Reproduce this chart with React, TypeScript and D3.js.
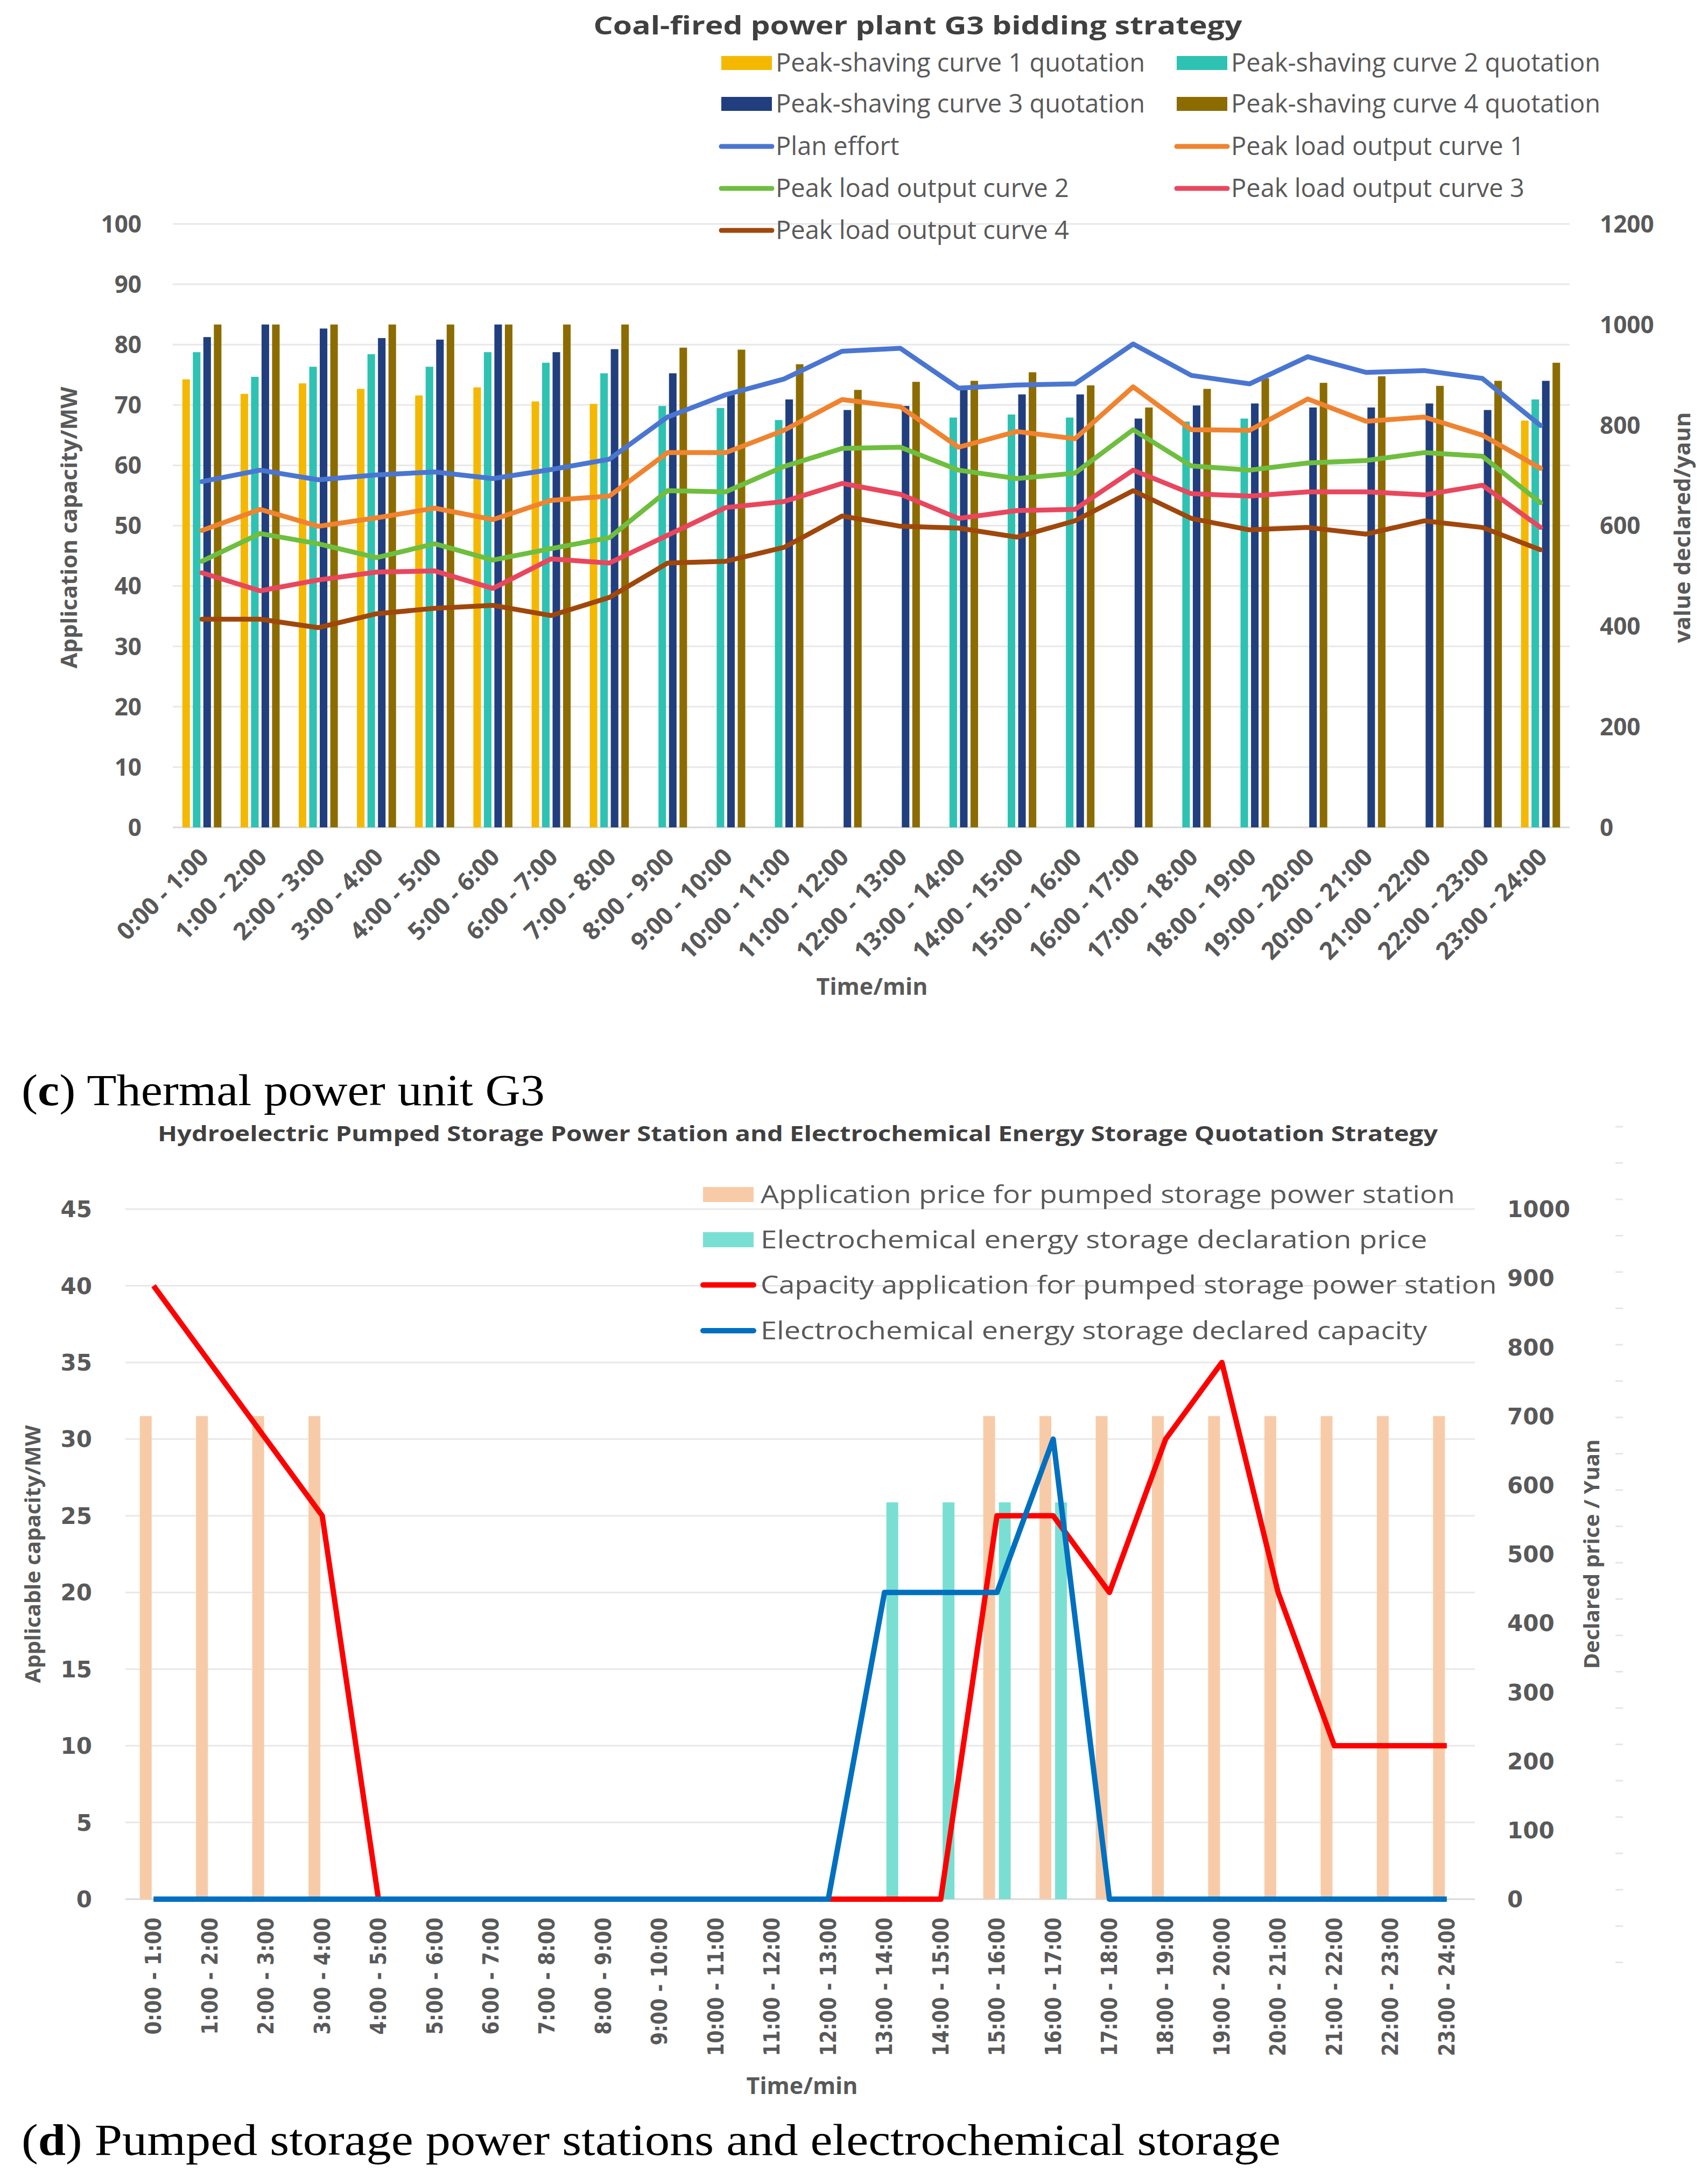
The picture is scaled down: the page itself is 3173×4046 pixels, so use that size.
import React from "react";
import * as d3 from "d3";

// time slots shared by both charts
const slots = [
  "0:00 - 1:00", "1:00 - 2:00", "2:00 - 3:00", "3:00 - 4:00", "4:00 - 5:00", "5:00 - 6:00",
  "6:00 - 7:00", "7:00 - 8:00", "8:00 - 9:00", "9:00 - 10:00", "10:00 - 11:00", "11:00 - 12:00",
  "12:00 - 13:00", "13:00 - 14:00", "14:00 - 15:00", "15:00 - 16:00", "16:00 - 17:00", "17:00 - 18:00",
  "18:00 - 19:00", "19:00 - 20:00", "20:00 - 21:00", "21:00 - 22:00", "22:00 - 23:00", "23:00 - 24:00",
];

// chart (c): quotations in yuan (right axis)
const quote1 = [891, 862, 883, 872, 859, 875, 847, 842, null, null, null, null, null, null, null, null, null, null, null, null, null, null, null, 809];
const quote2 = [945, 896, 916, 941, 916, 945, 924, 903, 838, 834, 810, null, null, 815, 821, 815, null, 807, 813, null, null, null, null, 851];
const quote3 = [975, 1000, 992, 973, 970, 1000, 945, 951, 903, 860, 851, 830, 838, 870, 861, 861, 813, 839, 843, 835, 835, 843, 830, 888];
const quote4 = [1000, 1000, 1000, 1000, 1000, 1000, 1000, 1000, 954, 950, 921, 870, 886, 888, 905, 879, 835, 872, 893, 884, 897, 878, 888, 924];

// chart (c): outputs in MW (left axis)
const planEffort = [57.3, 59.2, 57.6, 58.4, 58.9, 57.8, 59.3, 61.0, 68.0, 71.7, 74.3, 78.9, 79.4, 72.8, 73.3, 73.5, 80.1, 74.9, 73.5, 78.0, 75.4, 75.7, 74.4, 66.6];
const peak1 = [49.2, 52.7, 49.9, 51.3, 52.9, 51.0, 54.2, 54.9, 62.1, 62.1, 65.8, 70.9, 69.7, 63.0, 65.6, 64.4, 73.0, 65.9, 65.8, 71.0, 67.3, 68.0, 65.0, 59.5];
const peak2 = [44.1, 48.7, 47.0, 44.7, 47.0, 44.3, 46.2, 48.0, 55.8, 55.6, 59.8, 62.8, 63.0, 59.2, 57.8, 58.7, 65.9, 59.9, 59.2, 60.4, 60.8, 62.1, 61.5, 53.8];
const peak3 = [42.2, 39.2, 41.0, 42.3, 42.5, 39.6, 44.5, 43.8, 48.4, 53.0, 54.0, 57.0, 55.2, 51.2, 52.5, 52.7, 59.2, 55.3, 54.9, 55.6, 55.6, 55.1, 56.7, 49.7];
const peak4 = [34.5, 34.5, 33.1, 35.4, 36.3, 36.8, 35.1, 38.1, 43.8, 44.1, 46.4, 51.6, 49.9, 49.6, 48.1, 50.8, 55.8, 51.2, 49.3, 49.7, 48.6, 50.8, 49.7, 46.0];

const ticksC_left = [0, 10, 20, 30, 40, 50, 60, 70, 80, 90, 100];
const ticksC_right = [0, 200, 400, 600, 800, 1000, 1200];

// chart (d)
const pumpPrice = [700, 700, 700, 700, null, null, null, null, null, null, null, null, null, null, null, 700, 700, 700, 700, 700, 700, 700, 700, 700];
const echemPrice = [null, null, null, null, null, null, null, null, null, null, null, null, null, 575, 575, 575, 575, null, null, null, null, null, null, null];
const pumpCap = [40, 35, 30, 25, 0, 0, 0, 0, 0, 0, 0, 0, 0, 0, 0, 25, 25, 20, 30, 35, 20, 10, 10, 10];
const echemCap = [0, 0, 0, 0, 0, 0, 0, 0, 0, 0, 0, 0, 0, 20, 20, 20, 30, 0, 0, 0, 0, 0, 0, 0];

const ticksD_left = [0, 5, 10, 15, 20, 25, 30, 35, 40, 45];
const ticksD_right = [0, 100, 200, 300, 400, 500, 600, 700, 800, 900, 1000];

const sans = "'Open Sans', 'DejaVu Sans', sans-serif";
const wide = "'DejaVu Sans', Verdana, sans-serif";
const serif = "'Liberation Serif', 'DejaVu Serif', serif";
const grey = "#595959";

export default function App() {
  // ---------- chart (c) ----------
  const xC = d3.scaleBand().domain(slots).range([321, 2916]);
  const yCL = d3.scaleLinear().domain([0, 100]).range([1537, 416]);
  const yCR = d3.scaleLinear().domain([0, 1200]).range([1537, 416]);
  const slotC = d3.scaleBand<number>().domain([0, 1, 2, 3]).range([-36.3, 36.3]).paddingInner(0.28);
  const cx = (s: string) => (xC(s) as number) + xC.bandwidth() / 2;

  const barSeriesC = [
    { name: "Peak-shaving curve 1 quotation", values: quote1, color: "#F5B800" },
    { name: "Peak-shaving curve 2 quotation", values: quote2, color: "#2EC2B3" },
    { name: "Peak-shaving curve 3 quotation", values: quote3, color: "#213F7E" },
    { name: "Peak-shaving curve 4 quotation", values: quote4, color: "#8C6C00" },
  ];
  const lineSeriesC = [
    { name: "Plan effort", values: planEffort, color: "#4A76D1" },
    { name: "Peak load output curve 1", values: peak1, color: "#F0832F" },
    { name: "Peak load output curve 2", values: peak2, color: "#6FBE3F" },
    { name: "Peak load output curve 3", values: peak3, color: "#E8475E" },
    { name: "Peak load output curve 4", values: peak4, color: "#A0470C" },
  ];
  const lineC = d3
    .line<number>()
    .x((d, i) => cx(slots[i]))
    .y((d) => yCL(d));

  const legendC = [...barSeriesC, ...lineSeriesC];
  const legendRowsC = [117, 193, 272, 350, 428];
  const legendColsC = [1340, 2186];

  // ---------- chart (d) ----------
  const xD = d3.scaleBand().domain(slots).range([233, 2740]);
  const yDL = d3.scaleLinear().domain([0, 45]).range([3528, 2246]);
  const yDR = d3.scaleLinear().domain([0, 1000]).range([3528, 2246]);
  const slotD = d3.scaleBand<number>().domain([0, 1]).range([-25.5, 25.5]).paddingInner(0.24);
  const dx = (s: string) => (xD(s) as number) + xD.bandwidth() / 2;

  const barSeriesD = [
    { name: "Application price for pumped storage power station", values: pumpPrice, color: "#F8CBA8" },
    { name: "Electrochemical energy storage declaration price", values: echemPrice, color: "#7ADFD3" },
  ];
  const lineSeriesD = [
    { name: "Capacity application for pumped storage power station", values: pumpCap, color: "#FF0000" },
    { name: "Electrochemical energy storage declared capacity", values: echemCap, color: "#0070C0" },
  ];
  const lineD = d3
    .line<number>()
    .x((d, i) => dx(slots[i]))
    .y((d) => yDL(d));
  const legendRowsD = [2219, 2303, 2387, 2472];

  const sideTicks = d3.range(2093, 3700, 67.5);

  return (
    <svg
      width={3173}
      height={4046}
      style={{ position: "absolute", left: 0, top: 0, background: "#ffffff" }}
    >
      <rect x={0} y={0} width={3173} height={4046} fill="#ffffff" />

      {/* ================= chart (c) ================= */}
      <text x={1705} y={64} textAnchor="middle" fontFamily={sans} fontWeight="bold" fontSize={46}
        fill="#404040" textLength={1205} lengthAdjust="spacingAndGlyphs">
        Coal-fired power plant G3 bidding strategy
      </text>

      {ticksC_left.map((t) => (
        <line key={"gc" + t} x1={321} x2={2916} y1={yCL(t)} y2={yCL(t)}
          stroke={t === 0 ? "#d9d9d9" : "#e8e8e8"} strokeWidth={3} />
      ))}
      {ticksC_left.map((t) => (
        <text key={"lc" + t} x={263} y={yCL(t)} dy="0.36em" textAnchor="end"
          fontFamily={sans} fontWeight="bold" fontSize={44} fill={grey}>{t}</text>
      ))}
      {ticksC_right.map((t) => (
        <text key={"rc" + t} x={2972} y={yCR(t)} dy="0.36em" textAnchor="start"
          fontFamily={sans} fontWeight="bold" fontSize={44} fill={grey}>{t}</text>
      ))}

      {barSeriesC.map((s, k) =>
        s.values.map((v, i) =>
          v == null ? null : (
            <rect key={"bc" + k + "-" + i}
              x={cx(slots[i]) + (slotC(k) as number)}
              y={yCR(v)}
              width={slotC.bandwidth()}
              height={yCR(0) - yCR(v)}
              fill={s.color} />
          )
        )
      )}

      {lineSeriesC.map((s) => (
        <path key={s.name} d={lineC(s.values) as string} fill="none" stroke={s.color}
          strokeWidth={9} strokeLinejoin="round" strokeLinecap="round" />
      ))}

      {legendC.map((s, i) => {
        const row = legendRowsC[Math.floor(i / 2)];
        const col = legendColsC[i % 2];
        const isBar = i < 4;
        return (
          <g key={"lgc" + i}>
            {isBar ? (
              <rect x={col} y={row - 13} width={94} height={26} fill={s.color} />
            ) : (
              <line x1={col} x2={col + 94} y1={row} y2={row} stroke={s.color} strokeWidth={9} strokeLinecap="round" />
            )}
            <text x={col + 101} y={row} dy="0.35em" fontFamily={sans} fontSize={47} fill={grey}>{s.name}</text>
          </g>
        );
      })}

      {slots.map((s) => (
        <text key={"xc" + s} transform={`translate(${cx(s) + 4},${1584}) rotate(-45)`}
          textAnchor="end" dy="0.35em" fontFamily={sans} fontWeight="bold" fontSize={45} fill={grey}>{s}</text>
      ))}

      <text x={1620} y={1848} textAnchor="middle" fontFamily={sans} fontWeight="bold" fontSize={43} fill={grey}>Time/min</text>
      <text transform="translate(128,980) rotate(-90)" textAnchor="middle" dy="0.35em"
        fontFamily={sans} fontWeight="bold" fontSize={42} fill={grey}>Application capacity/MW</text>
      <text transform="translate(3125,980) rotate(-90)" textAnchor="middle" dy="0.35em"
        fontFamily={sans} fontWeight="bold" fontSize={42} fill={grey}>value declared/yaun</text>

      <text x={40} y={2053} fontFamily={serif} fontSize={82} fill="#000" textLength={972} lengthAdjust="spacingAndGlyphs">
        (<tspan fontWeight="bold">c</tspan>) Thermal power unit G3
      </text>

      {/* ================= chart (d) ================= */}
      <text x={1482} y={2120} textAnchor="middle" fontFamily={sans} fontWeight="bold" fontSize={40}
        fill="#404040" textLength={2378} lengthAdjust="spacingAndGlyphs">
        Hydroelectric Pumped Storage Power Station and Electrochemical Energy Storage Quotation Strategy
      </text>

      {sideTicks.map((y) => (
        <line key={"st" + y} x1={3001} x2={3015} y1={y} y2={y} stroke="#e6e6e6" strokeWidth={3} />
      ))}

      {ticksD_left.map((t) => (
        <line key={"gd" + t} x1={233} x2={2740} y1={yDL(t)} y2={yDL(t)}
          stroke={t === 0 ? "#d9d9d9" : "#e8e8e8"} strokeWidth={3} />
      ))}
      {ticksD_left.map((t) => (
        <text key={"ld" + t} x={171} y={yDL(t)} dy="0.36em" textAnchor="end"
          fontFamily={wide} fontWeight="bold" fontSize={42} fill={grey}>{t}</text>
      ))}
      {ticksD_right.map((t) => (
        <text key={"rd" + t} x={2800} y={yDR(t)} dy="0.36em" textAnchor="start"
          fontFamily={wide} fontWeight="bold" fontSize={42} fill={grey}>{t}</text>
      ))}

      {barSeriesD.map((s, k) =>
        s.values.map((v, i) =>
          v == null ? null : (
            <rect key={"bd" + k + "-" + i}
              x={dx(slots[i]) + (slotD(k) as number)}
              y={yDR(v)}
              width={slotD.bandwidth()}
              height={yDR(0) - yDR(v)}
              fill={s.color} />
          )
        )
      )}

      {lineSeriesD.map((s) => (
        <path key={s.name} d={lineD(s.values) as string} fill="none" stroke={s.color}
          strokeWidth={10} strokeLinejoin="round" strokeLinecap="butt" />
      ))}

      {[...barSeriesD, ...lineSeriesD].map((s, i) => {
        const row = legendRowsD[i];
        return (
          <g key={"lgd" + i}>
            {i < 2 ? (
              <rect x={1306} y={row - 14} width={94} height={28} fill={s.color} />
            ) : (
              <line x1={1306} x2={1400} y1={row} y2={row} stroke={s.color} strokeWidth={10} strokeLinecap="round" />
            )}
            <text x={1413} y={row} dy="0.35em" fontFamily={sans} fontSize={46} fill={grey}
              textLength={s.name.length * 25.8} lengthAdjust="spacingAndGlyphs">{s.name}</text>
          </g>
        );
      })}

      {slots.map((s) => (
        <text key={"xd" + s} transform={`translate(${dx(s) + 14},${3562}) rotate(-90)`}
          textAnchor="end" fontFamily={wide} fontWeight="bold" fontSize={40} fill={grey}
          textLength={s.length * 19.8} lengthAdjust="spacingAndGlyphs">{s}</text>
      ))}

      <text x={1490} y={3890} textAnchor="middle" fontFamily={sans} fontWeight="bold" fontSize={43} fill={grey}>Time/min</text>
      <text transform="translate(61,2887) rotate(-90)" textAnchor="middle" dy="0.35em"
        fontFamily={sans} fontWeight="bold" fontSize={40} fill={grey}>Applicable capacity/MW</text>
      <text transform="translate(2957,2887) rotate(-90)" textAnchor="middle" dy="0.35em"
        fontFamily={sans} fontWeight="bold" fontSize={40} fill={grey}>Declared price / Yuan</text>

      <text x={40} y={4003} fontFamily={serif} fontSize={82} fill="#000" textLength={2339} lengthAdjust="spacingAndGlyphs">
        (<tspan fontWeight="bold">d</tspan>) Pumped storage power stations and electrochemical storage
      </text>
    </svg>
  );
}
